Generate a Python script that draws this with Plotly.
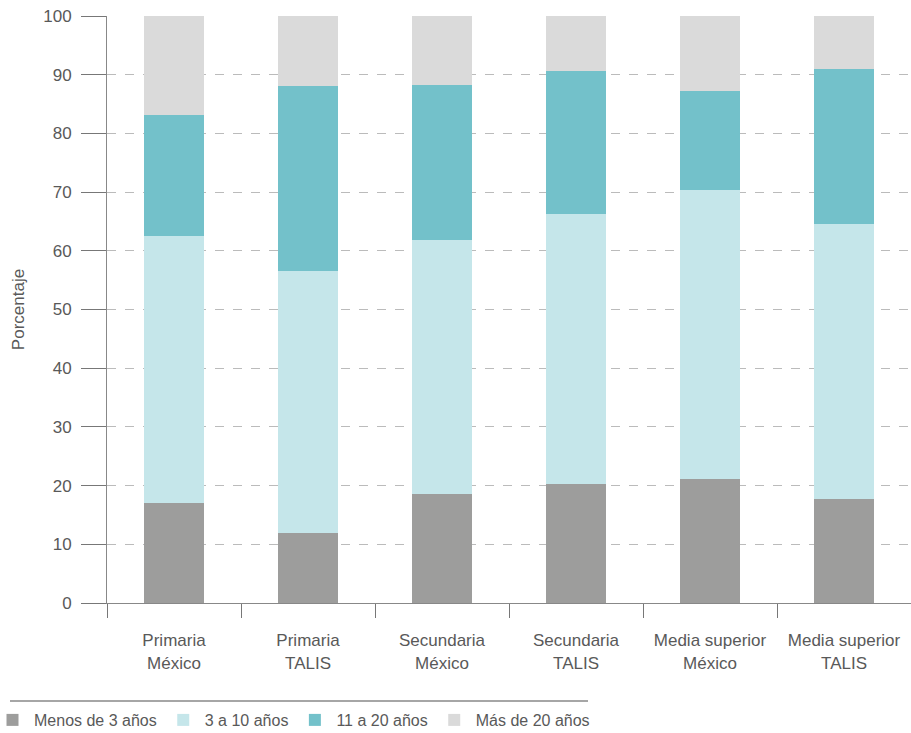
import plotly.graph_objects as go

categories = ["Primaria<br>México", "Primaria<br>TALIS", "Secundaria<br>México",
              "Secundaria<br>TALIS", "Media superior<br>México", "Media superior<br>TALIS"]
menos_3 = [17.1, 12.0, 18.5, 20.2, 21.2, 17.8]
de_3_a_10 = [45.5, 44.5, 43.3, 46.0, 49.1, 46.7]
de_11_a_20 = [20.6, 31.5, 26.4, 24.5, 16.9, 26.4]
mas_20 = [16.8, 12.0, 11.8, 9.3, 12.8, 9.1]
series_names = ["Menos de 3 años", "3 a 10 años", "11 a 20 años", "Más de 20 años"]
y_ticks = [0, 10, 20, 30, 40, 50, 60, 70, 80, 90, 100]

colors = ["#9D9D9C", "#C5E6EA", "#73C1CA", "#DADADA"]
FONT = "Liberation Sans, Arial, sans-serif"
TXT = "#595959"

W, H = 911, 733
ML, MR, MT, MB = 107, 0, 16, 130

fig = go.Figure()
for name, vals, col in zip(series_names, [menos_3, de_3_a_10, de_11_a_20, mas_20], colors):
    fig.add_trace(go.Bar(x=categories, y=vals, name=name, marker=dict(color=col, line=dict(width=0))))

pw = W - ML - MR
ph = H - MT - MB
def px_x(p):
    return (p - ML) / pw
def px_y(p):
    return (H - MB - p) / ph

fig.update_layout(
    width=W, height=H,
    margin=dict(l=ML, r=MR, t=MT, b=MB, pad=0, autoexpand=False),
    barmode="stack", bargap=0.547,
    plot_bgcolor="white", paper_bgcolor="white",
    font=dict(family=FONT, size=17, color=TXT),
    showlegend=True,
    legend=dict(orientation="h", x=px_x(-9), xanchor="left", y=px_y(703), yanchor="top",
                font=dict(family=FONT, size=16, color=TXT), traceorder="normal",
                itemwidth=33, itemclick=False, itemdoubleclick=False),
    xaxis=dict(showline=True, linecolor="#888888", linewidth=1, ticks="outside",
               tickson="boundaries", ticklen=14, tickcolor="#777777", tickwidth=1,
               showgrid=False, tickangle=0, automargin=False, ticklabelstandoff=22,
               tickfont=dict(size=17, color=TXT), fixedrange=True),
    yaxis=dict(range=[0, 100], tickvals=y_ticks, showline=True, linecolor="#888888", linewidth=1,
               ticks="outside", ticklen=25, tickcolor="#777777", tickwidth=1,
               showgrid=True, gridcolor="#BBBBBB", griddash="dash", gridwidth=1,
               zeroline=False, automargin=False,
               tickfont=dict(size=17, color=TXT), ticklabelstandoff=6,
               title=dict(text="Porcentaje", font=dict(size=17, color=TXT), standoff=14),
               fixedrange=True),
    shapes=[dict(type="line", xref="paper", yref="paper", x0=px_x(10), x1=px_x(588),
                 y0=px_y(701), y1=px_y(701), line=dict(color="#888888", width=1.5))],
)

fig.write_html("out.html", config={"displayModeBar": False},
               post_script="document.body.style.margin='0';")
